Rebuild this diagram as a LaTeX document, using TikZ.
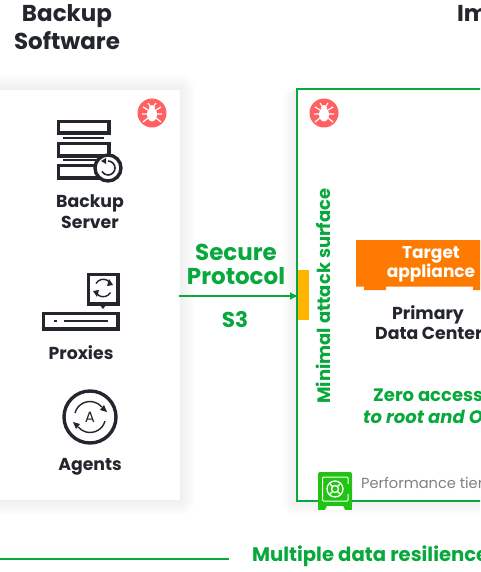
\documentclass[tikz,border=0pt]{standalone}
\usepackage{fontspec}
\setmainfont{Poppins}
\usepackage{xcolor}
\usetikzlibrary{arrows.meta,positioning}
\definecolor{vgreen}{HTML}{08A83C}
\definecolor{vink}{HTML}{23262D}
\definecolor{vorange}{HTML}{FF7A00}
\definecolor{vyellow}{HTML}{FFB400}
\definecolor{vred}{HTML}{FF6060}
\definecolor{vsafe}{HTML}{22C414}
\begin{document}
\begin{tikzpicture}[x=1pt,y=-1pt,
title/.style={font=\bfseries\fontsize{23}{28}\selectfont, text=vink, align=center},
label/.style={font=\bfseries\fontsize{17.3}{21}\selectfont, text=vink, align=center},
greenlabel/.style={font=\bfseries\fontsize{18}{22}\selectfont, text=vgreen, align=left, anchor=west, inner sep=0pt},
icon/.style={draw=vink, line width=3.4pt, fill=white},
thin icon/.style={draw=vink, line width=1.4pt},
arrow/.style={-{Latex[length=8pt,width=8pt]}, draw=vgreen, line width=1.5pt},
bug/.pic={
  \fill[vred] (0,0) circle (14.5);
  \fill[white] (0,1.5) ellipse (5 and 7);
  \fill[white] (0,-5.5) ellipse (3 and 2.4);
  \draw[white, line width=1pt] (-2,-7) -- (-4,-10) (2,-7) -- (4,-10);
  \draw[white, line width=1.2pt] (-4,-3) -- (-9,-6) (4,-3) -- (9,-6) (-5,1) -- (-10,1) (5,1) -- (10,1) (-4,5) -- (-9,9) (4,5) -- (9,9);
}
]
\useasboundingbox (0,0) rectangle (480,572);
\clip (0,0) rectangle (480,572);
\fill[white] (0,0) rectangle (480,572);
% soft shadows
\foreach \d in {1,3,...,15} {
  \fill[black, opacity=0.006, rounded corners=\d] (-30,90-\d) rectangle (180+\d,500+\d);
  \fill[black, opacity=0.006, rounded corners=\d] (297-\d,89) rectangle (520,501+\d);
}
\fill[white] (-5,90) rectangle (180,500);
\fill[white] (297,89) rectangle (520,501);

\node[title] (software) at (67,27) {Backup\\Software};
\node[title, anchor=west, inner sep=0pt] (immutable) at (457,13) {Im};

% server icon
\draw[icon] (58.5,121.5) rectangle (109,133);
\draw[icon] (58.5,143.5) rectangle (109,156);
\draw[icon] (58.5,165.5) rectangle (109,178);
\draw[vink, line width=2pt] (63,138) -- (104,138) (63,160) -- (104,160);
\draw[icon] (108,168) circle (13);
\draw[thin icon, line width=1.6pt] (108,161) arc (270:510:7);
\fill[vink] (101,161) -- (106,158) -- (106,164) -- cycle;
\node[label] (server) at (90,212) {Backup\\Server};

% proxies icon
\draw[icon] (88.5,274.5) rectangle (118,304);
\fill[vink] (100,305) -- (106,305) -- (103,309) -- cycle;
\draw[thin icon] (96,283.5) arc (210:330:8.5);
\draw[thin icon] (110.5,292.5) arc (30:150:8.5);
\fill[vink] (109,279) -- (113,285) -- (107,286) -- cycle;
\fill[vink] (97,297) -- (93,291) -- (99,290) -- cycle;
\draw[icon] (43.5,313.5) rectangle (118,329);
\fill[vink] (54,320) rectangle (57,322);
\draw[vink, line width=1.6pt] (64,321) -- (108,321);
\node[label] (proxies) at (81,353) {Proxies};

% agents icon
\draw[icon] (90,417) circle (26);
\draw[thin icon] (75,413) arc (195:320:15.5);
\draw[thin icon] (105,421) arc (15:140:15.5);
\fill[vink] (107,412) -- (100,410) -- (104,405) -- cycle;
\fill[vink] (73,422) -- (80,424) -- (76,429) -- cycle;
\node[font=\fontsize{15}{15}\selectfont, text=vink, inner sep=0pt] (agentA) at (90,417) {A};
\node[label] (agents) at (90,467) {Agents};

\pic at (152,113) {bug};
\pic at (324,113) {bug};

% immutable frame
\draw[vgreen, line width=2.5pt] (520,89) -- (297,89) -- (297,501) -- (520,501);
\node[fill=vyellow, minimum width=11pt, minimum height=50pt, inner sep=0pt, anchor=west] (port) at (298,295) {};
\coordinate (source) at (179,296);
\draw[arrow] (source) -- (port.west |- source);

\node[font=\bfseries\fontsize{23}{23.5}\selectfont, text=vgreen, align=center] (protocol) at (236,264.5) {Secure\\Protocol};
\node[font=\bfseries\fontsize{21.5}{24}\selectfont, text=vgreen] (sthree) at (235,320) {S3};
\node[font=\bfseries\fontsize{18}{20}\selectfont, text=vgreen, rotate=90] (surface) at (323,296) {Minimal attack surface};

% target appliance
\fill[vorange] (356,240) -- (520,240) -- (520,290) -- (473,290) -- (473,286.5) -- (386,286.5) -- (386,290) -- (364,290) -- (364,286.5) -- (356,286.5) -- cycle;
\node[font=\bfseries\fontsize{17}{15.5}\selectfont, text=white, align=center] (target) at (431,264.5) {Target\\appliance};
\node[label] (primary) at (428,315) {Primary};
\node[label, anchor=west, inner sep=0pt] (center) at (375,333) {Data Center};

\node[greenlabel] (zero) at (373,395) {Zero access};
\node[greenlabel, font=\bfseries\itshape\fontsize{18}{22}\selectfont] (root) at (363,417) {to root and O};

% safe icon
\fill[vsafe, rounded corners=2pt] (318,472) rectangle (352,505.5);
\fill[vsafe] (318,503) rectangle (352,509.5);
\fill[white] (327,506) -- (343,506) -- (345,510) -- (325,510) -- cycle;
\draw[white, line width=1pt, rounded corners=1pt] (322.5,477) rectangle (348,501);
\fill[vsafe] (346,484) rectangle (350,494);
\draw[white, line width=1.3pt] (335,489) circle (8) circle (3.5);
\draw[white, line width=1.3pt] (330,484) -- (332.5,486.5) (340,484) -- (337.5,486.5) (330,494) -- (332.5,491.5) (340,494) -- (337.5,491.5);
\node[font=\fontsize{14.6}{17}\selectfont, text=black!50, anchor=west, inner sep=0pt] (tier) at (361,483) {Performance tier};

% resilience
\coordinate (lineA) at (0,559);
\coordinate (lineB) at (229,559);
\draw[vgreen, line width=1.3pt] (lineA) -- (lineB);
\node[greenlabel, font=\bfseries\fontsize{19.6}{22}\selectfont] (resilience) at (252,556) {Multiple data resilience};
\end{tikzpicture}
\end{document}
